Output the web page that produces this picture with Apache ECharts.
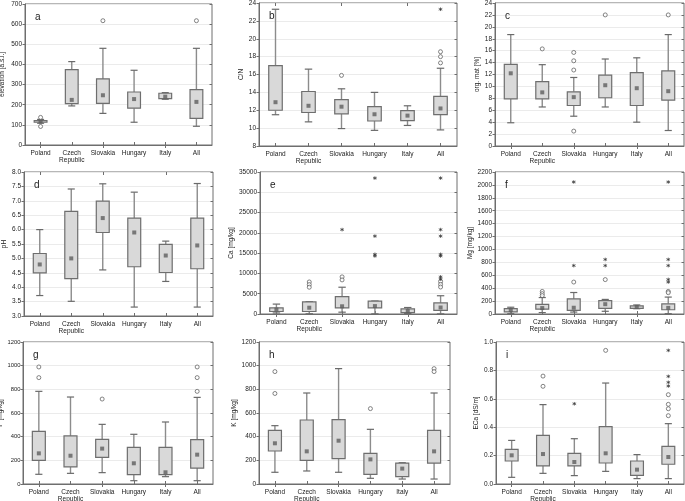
<!DOCTYPE html>
<html>
<head>
<meta charset="utf-8">
<script src="https://cdn.jsdelivr.net/npm/echarts@6/dist/echarts.min.js"></script>
<style>html,body{margin:0;padding:0;background:#fff}#c{width:685px;height:501px}</style>
</head>
<body>
<div id="c"></div>
<script>
// ---------------- DATA ----------------
const categories = ['Poland', 'Czech\nRepublic', 'Slovakia', 'Hungary', 'Italy', 'All'];
// box rows: [lower whisker, Q1, median, Q3, upper whisker]
const elevationBox = [[108,113,117,121,127],[194,205,224,374,414],[157,207,247,328,480],[113,183,228,263,371],[227,230,240,257,260],[93,132,214,275,480]];
const elevationOut = [[0,137],[0,92],[2,617],[5,617]];
const elevationExt = [];
const elevationTicks = {min:0, max:700, interval:100};

const cnBox = [[11.5,12.0,12.9,17.0,23.3],[10.7,11.75,12.5,14.1,16.6],[9.95,11.6,12.4,13.2,14.4],[9.75,10.8,11.55,12.4,14.0],[10.3,10.85,11.4,11.95,12.5],[9.8,11.5,12.2,13.55,16.7]];
const cnOut = [[2,15.9],[5,18.55],[5,18.0],[5,17.3]];
const cnExt = [[5,23.3]];
const cnTicks = {min:8, max:24, interval:2};

const omBox = [[3.9,7.9,12.2,13.7,18.7],[6.55,7.9,9.0,10.8,13.65],[5.0,6.8,8.2,9.1,11.5],[6.55,8.1,10.2,11.9,14.6],[4.0,6.8,9.7,12.3,14.8],[2.6,7.7,9.2,12.6,18.7]];
const omOut = [[1,16.3],[2,15.7],[2,14.3],[2,12.75],[2,2.5],[3,22.0],[5,22.0]];
const omExt = [];
const omTicks = {min:0, max:24, interval:2};

const phBox = [[3.71,4.5,4.79,5.17,6.0],[3.51,4.3,5.0,6.63,7.41],[4.6,5.9,6.4,6.99,7.59],[3.31,4.71,5.9,6.4,7.3],[4.2,4.51,5.1,5.49,5.6],[3.31,4.64,5.45,6.4,7.6]];
const phOut = [];
const phExt = [];
const phTicks = {min:3, max:8, interval:0.5};

const caBox = [[250,620,1080,1500,2440],[50,620,1550,3000,3050],[450,1500,1900,4300,6600],[30,1500,1950,3180,3200],[150,330,720,1250,1600],[30,880,1600,2730,4500]];
const caOut = [[1,7900],[1,7250],[1,6600],[2,9150],[2,8400],[5,8000],[5,7300],[5,6650]];
const caExt = [[2,20800],[3,33500],[3,19200],[3,14700],[3,14300],[5,33500],[5,20800],[5,19200],[5,14700],[5,14300],[5,9150],[5,8600]];
const caTicks = {min:0, max:35000, interval:5000};

const mgBox = [[5,33,60,82,105],[22,74,92,150,255],[30,55,97,234,333],[42,88,152,208,226],[82,87,110,126,140],[5,66,95,158,262]];
const mgOut = [[1,350],[1,315],[1,285],[2,495],[3,533],[5,350],[5,330]];
const mgExt = [[2,2045],[2,750],[3,845],[3,750],[5,2045],[5,845],[5,750],[5,535],[5,495]];
const mgTicks = {min:0, max:2200, interval:200};

const pBox = [[82,200,259,445,783],[90,144,239,406,735],[96,225,299,377,504],[28,79,175,310,420],[62,79,99,310,524],[28,135,248,375,732]];
const pOut = [[0,989],[0,899],[2,718],[5,989],[5,899],[5,783]];
const pExt = [];
const pTicks = {min:0, max:1200, interval:200};

const kBox = [[99,279,344,454,493],[110,200,276,541,769],[99,214,366,544,975],[48,82,208,259,462],[42,62,130,177,180],[42,177,276,454,769]];
const kOut = [[0,950],[0,765],[3,637],[5,975],[5,950]];
const kExt = [];
const kTicks = {min:0, max:1200, interval:200};

const ecBox = [[0.047,0.162,0.202,0.244,0.307],[0.075,0.127,0.211,0.343,0.559],[0.059,0.127,0.155,0.216,0.319],[0.089,0.148,0.216,0.404,0.711],[0.038,0.061,0.101,0.162,0.207],[0.038,0.139,0.19,0.265,0.425]];
const ecOut = [[1,0.76],[1,0.688],[3,0.941],[5,0.629],[5,0.561],[5,0.53],[5,0.481]];
const ecExt = [[2,0.565],[5,0.941],[5,0.758],[5,0.716],[5,0.69]];
const ecTicks = {min:0, max:1, interval:0.2};

// ---------------- PANELS ----------------
const panels = [
  {letter:'a', name:'elevation [a.s.l.]', box:elevationBox, out:elevationOut, ext:elevationExt, t:elevationTicks, dec:0, g:{left:25, top:4, width:187, height:141}, gap:19, lf:6.5, lm:3},
  {letter:'b', name:'C/N', box:cnBox, out:cnOut, ext:cnExt, t:cnTicks, dec:0, g:{left:259, top:3, width:198, height:143}, gap:13, lf:6.5, lm:3},
  {letter:'c', name:'org. mat [%]', box:omBox, out:omOut, ext:omExt, t:omTicks, dec:0, g:{left:495, top:3, width:189, height:143}, gap:14, lf:6.5, lm:3},
  {letter:'d', name:'pH', box:phBox, out:phOut, ext:phExt, t:phTicks, dec:1, g:{left:24, top:172, width:189, height:144}, gap:16, lf:6.5, lm:3},
  {letter:'e', name:'Ca [mg/kg]', box:caBox, out:caOut, ext:caExt, t:caTicks, dec:0, g:{left:260, top:172, width:197, height:142}, gap:24, lf:6.5, lm:3},
  {letter:'f', name:'Mg [mg/kg]', box:mgBox, out:mgOut, ext:mgExt, t:mgTicks, dec:0, g:{left:495, top:172, width:189, height:142}, gap:21, lf:6.5, lm:3},
  {letter:'g', name:'P [mg/kg]', box:pBox, out:pOut, ext:pExt, t:pTicks, dec:0, g:{left:23, top:342, width:190, height:142}, gap:19, lf:5.8, lm:2.5},
  {letter:'h', name:'K [mg/kg]', box:kBox, out:kOut, ext:kExt, t:kTicks, dec:0, g:{left:259, top:342, width:191, height:142}, gap:18, lf:6.5, lm:3},
  {letter:'i', name:'ECa [dS/m]', box:ecBox, out:ecOut, ext:ecExt, t:ecTicks, dec:1, g:{left:496, top:342, width:188, height:142}, gap:12, lf:6.5, lm:3}
];

const FONT = 'Liberation Sans';
const BORDER = '#6e6e6e';
const STAR = 'path://M5,0L5,10M0.67,2.5L9.33,7.5M0.67,7.5L9.33,2.5';

function renderBox(params, api) {
  const c = api.value(0);
  const lo = api.coord([c, api.value(1)]);
  const q1 = api.coord([c, api.value(2)]);
  const q3 = api.coord([c, api.value(4)]);
  const hi = api.coord([c, api.value(5)]);
  const band = api.size([1, 0])[0];
  const bw = band * 0.41, cw = bw * 0.55;
  const x = lo[0];
  const ws = {stroke:'#8c8c8c', lineWidth:1.4};
  return {type:'group', children:[
    {type:'line', shape:{x1:x, y1:hi[1], x2:x, y2:q3[1]}, style:ws},
    {type:'line', shape:{x1:x, y1:q1[1], x2:x, y2:lo[1]}, style:ws},
    {type:'line', shape:{x1:x-cw/2, y1:hi[1], x2:x+cw/2, y2:hi[1]}, style:{stroke:'#6a6a6a', lineWidth:1.2}},
    {type:'line', shape:{x1:x-cw/2, y1:lo[1], x2:x+cw/2, y2:lo[1]}, style:{stroke:'#6a6a6a', lineWidth:1.2}},
    {type:'rect', shape:{x:x-bw/2, y:q3[1], width:bw, height:Math.max(q1[1]-q3[1], 0.5)}, style:{fill:'#d9d9d9', stroke:'#6e6e6e', lineWidth:1.2}}
  ]};
}

const option = {
  animation:false,
  backgroundColor:'#fff',
  textStyle:{fontFamily:FONT},
  grid:[], xAxis:[], yAxis:[], series:[], title:[]
};

panels.forEach((p, k) => {
  option.grid.push(Object.assign({show:true, borderColor:BORDER, borderWidth:1, backgroundColor:'transparent', containLabel:false, outerBoundsMode:'none'}, p.g));
  option.xAxis.push({
    type:'category', data:categories, gridIndex:k, position:'bottom',
    axisLine:{show:true, lineStyle:{color:BORDER}},
    axisTick:{show:true, inside:true, alignWithLabel:true, length:3, lineStyle:{color:BORDER}},
    axisLabel:{fontSize:6.5, color:'#222', margin:4, lineHeight:7.7, interval:0, fontFamily:FONT},
    splitLine:{show:false}
  });
  option.xAxis.push({
    type:'category', data:categories, gridIndex:k, position:'top',
    axisLine:{show:false},
    axisTick:{show:true, inside:true, alignWithLabel:true, length:3, lineStyle:{color:BORDER}},
    axisLabel:{show:false}, splitLine:{show:false}
  });
  option.yAxis.push({
    type:'value', gridIndex:k, position:'left', min:p.t.min, max:p.t.max, interval:p.t.interval,
    name:p.name, nameLocation:'middle', nameRotate:90, nameGap:p.gap,
    nameTextStyle:{fontSize:6.5, color:'#222', fontFamily:FONT},
    axisLine:{show:true, lineStyle:{color:BORDER}},
    axisTick:{show:true, inside:false, length:2.5, lineStyle:{color:BORDER}},
    axisLabel:{fontSize:p.lf, color:'#222', margin:p.lm, fontFamily:FONT,
      formatter:(v)=> p.dec ? v.toFixed(p.dec) : String(Math.round(v))},
    splitLine:{show:true, lineStyle:{color:'#ebebeb', width:1}}
  });
  option.yAxis.push({
    type:'value', gridIndex:k, position:'right', min:p.t.min, max:p.t.max, interval:p.t.interval,
    axisLine:{show:false},
    axisTick:{show:true, inside:true, length:2.5, lineStyle:{color:BORDER}},
    axisLabel:{show:false}, splitLine:{show:false}
  });
  const xi = 2*k, yi = 2*k;
  option.series.push({
    type:'custom', xAxisIndex:xi, yAxisIndex:yi, renderItem:renderBox,
    encode:{x:0, y:[1,2,3,4,5]},
    data:p.box.map((b,i)=>[i].concat(b)), z:2
  });
  option.series.push({
    type:'scatter', xAxisIndex:xi, yAxisIndex:yi, symbol:'rect', symbolSize:4,
    itemStyle:{color:'#5e5e5e'}, data:p.box.map((b,i)=>[i,b[2]]), z:3, silent:true
  });
  option.series.push({
    type:'scatter', xAxisIndex:xi, yAxisIndex:yi, symbol:'circle', symbolSize:4,
    itemStyle:{color:'#fff', borderColor:'#555', borderWidth:0.9}, data:p.out, z:3, silent:true
  });
  option.series.push({
    type:'scatter', xAxisIndex:xi, yAxisIndex:yi, symbol:STAR, symbolSize:3.6,
    itemStyle:{color:'none', borderColor:'#333', borderWidth:0.9}, data:p.ext, z:3, silent:true
  });
  option.title.push({
    text:p.letter, left:p.g.left+5, top:p.g.top+3,
    textStyle:{fontSize:10, fontWeight:'normal', color:'#222', fontFamily:FONT}
  });
});

const chart = echarts.init(document.getElementById('c'), null, {renderer:'canvas'});
chart.setOption(option);
</script>
</body>
</html>
